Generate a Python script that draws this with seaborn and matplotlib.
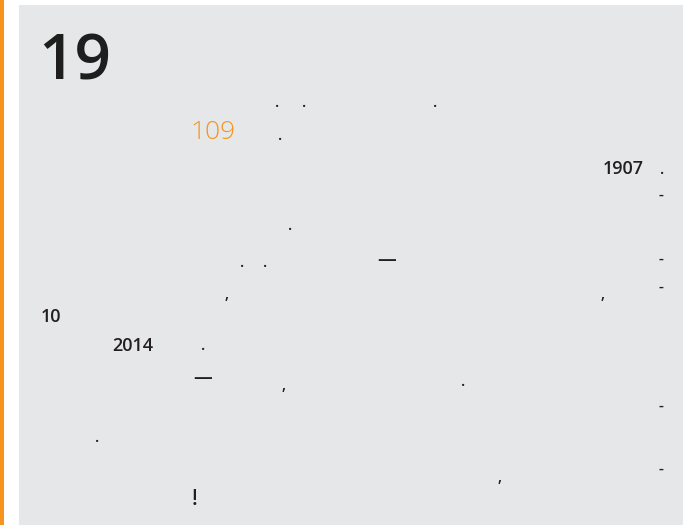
import matplotlib
matplotlib.use("Agg")
import matplotlib.pyplot as plt
import matplotlib.patches as mpatches
import seaborn as sns

sns.set_style("white")
plt.rcParams['font.family'] = ['Open Sans', 'DejaVu Sans']

# page texts (everything that survived rendering on the page)
headline = "19"
accent_number = "109"
numbers = ["1907", "10", "2014"]
marks = [".", ".", ".", ".", ".", ".", ".", ".", ".", ".", ".",
         "-", "-", "-", "-", "-", ",", ",", ",", ","]
dashes = ["\u2014", "\u2014"]
exclaim = "!"

# layout (pixels, left/baseline)
number_pos = [(603, 174), (41, 322), (112, 351)]
mark_pos = [(275, 107), (302, 107), (433, 107), (278, 140), (660, 174),
            (288, 230), (240, 267), (263, 267), (201, 350), (461, 386),
            (95, 442),
            (659, 199), (659, 263), (659, 291), (659, 410), (659, 473),
            (225, 299), (601, 299), (282, 390), (498, 482)]
dash_pos = [(377, 265), (193, 383)]

W, H = 685, 525
fig = plt.figure(figsize=(W / 100, H / 100), dpi=100)
ax = fig.add_axes([0, 0, 1, 1])
ax.set_xlim(0, W)
ax.set_ylim(H, 0)
ax.axis("off")

ax.add_patch(mpatches.Rectangle((0, 0), 4, H, color="#f7941d", lw=0))
ax.add_patch(mpatches.Rectangle((19, 5), W - 21, H - 5, color="#e6e7e9", lw=0))

ax.text(38, 80, headline, fontsize=46, fontweight="semibold", color="#1e1e1e",
        ha="left", va="baseline")
ax.text(190, 139, accent_number, fontsize=19, fontweight="light", color="#f7941d",
        ha="left", va="baseline")
for t, (x, y) in zip(numbers, number_pos):
    ax.text(x, y, t, fontsize=13, fontweight="semibold", color="#231f20",
            ha="left", va="baseline")
for t, (x, y) in zip(marks, mark_pos):
    ax.text(x, y, t, fontsize=11, fontweight="semibold", color="#231f20",
            ha="left", va="baseline")
for t, (x, y) in zip(dashes, dash_pos):
    ax.text(x, y, t, fontsize=13.5, fontweight="semibold", color="#231f20",
            ha="left", va="baseline")
ax.text(192, 505, exclaim, fontsize=15, fontweight="semibold", color="#231f20",
        ha="left", va="baseline")

fig.savefig("out.png", dpi=100)
